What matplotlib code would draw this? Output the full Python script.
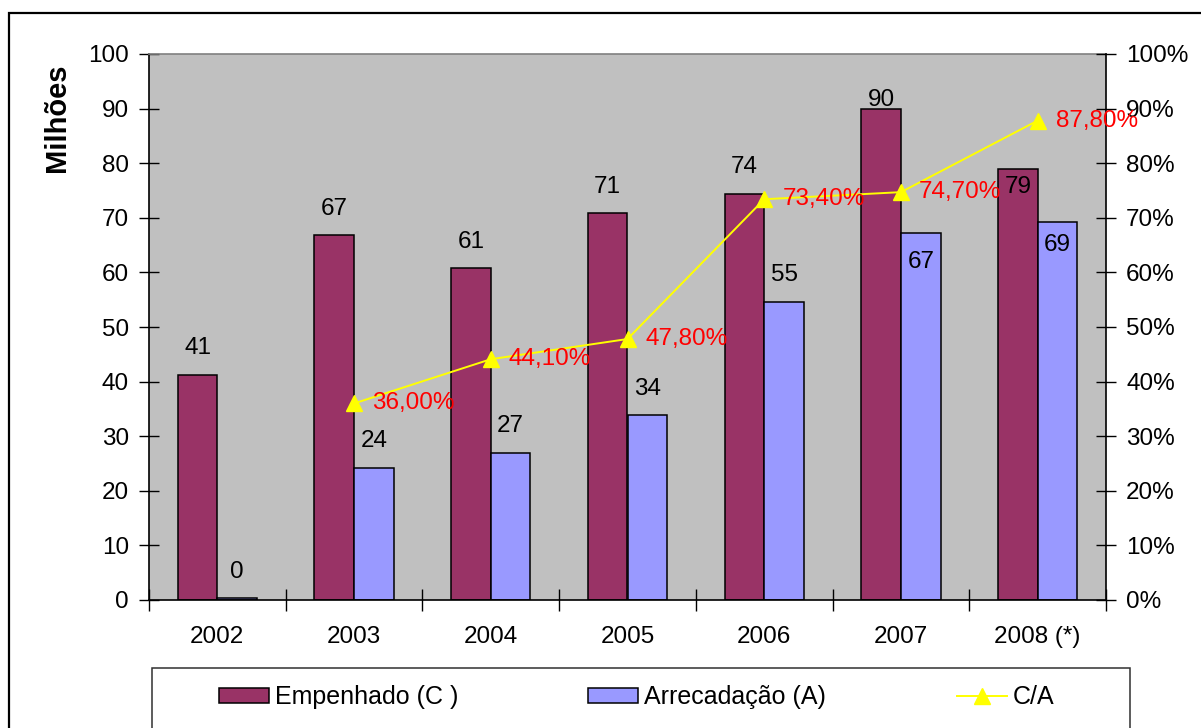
import matplotlib
matplotlib.use("Agg")
import matplotlib.pyplot as plt
from matplotlib.patches import Rectangle, Patch
from matplotlib.lines import Line2D

plt.rcParams['font.family'] = ['Liberation Sans', 'DejaVu Sans']

years = ["2002", "2003", "2004", "2005", "2006", "2007", "2008 (*)"]
empenhado = [41.3, 66.8, 60.8, 70.8, 74.4, 90.0, 78.9]
arrecadacao = [0.3, 24.2, 27.0, 33.8, 54.6, 67.2, 69.3]
emp_labels = ["41", "67", "61", "71", "74", "90", "79"]
arr_labels = ["0", "24", "27", "34", "55", "67", "69"]
ratio_years = [1, 2, 3, 4, 5, 6]
ratio = [0.360, 0.441, 0.478, 0.734, 0.747, 0.878]
ratio_labels = ["36,00%", "44,10%", "47,80%", "73,40%", "74,70%", "87,80%"]

# vertical offsets (points) for the value labels
emp_dy = [19, 19, 19, 19, 19, 6, -13]
arr_dy = [19, 19, 19, 19, 19, -21, -17]

C_EMP = "#993366"
C_ARR = "#9999FF"
C_BG = "#C0C0C0"
FS = 17.5

fig = plt.figure(figsize=(12.01, 7.28), dpi=100)
W, H = 1201, 728
ax = fig.add_axes([149 / W, 1 - 600 / H, (1106 - 149) / W, (600 - 54) / H])
ax.set_facecolor(C_BG)

bw = 0.29
xs = list(range(len(years)))
ax.bar([x - bw / 2 for x in xs], empenhado, width=bw, color=C_EMP,
       edgecolor="black", linewidth=1.1, zorder=2)
ax.bar([x + bw / 2 for x in xs], arrecadacao, width=bw, color=C_ARR,
       edgecolor="black", linewidth=1.1, zorder=2)

for x, v, t, dy in zip(xs, empenhado, emp_labels, emp_dy):
    ax.annotate(t, (x - bw / 2, v), xytext=(0, dy), textcoords="offset points",
                ha="center", va="center", fontsize=FS, color="black", zorder=3)
for x, v, t, dy in zip(xs, arrecadacao, arr_labels, arr_dy):
    ax.annotate(t, (x + bw / 2, v), xytext=(0, dy), textcoords="offset points",
                ha="center", va="center", fontsize=FS, color="black", zorder=3)

ax.set_xlim(-0.5, len(years) - 0.5)
ax.set_ylim(0, 100)
ax.set_yticks(range(0, 101, 10))
ax.set_xticks(xs)
ax.set_xticklabels(years)
ax.set_xticks([x - 0.5 for x in range(len(years) + 1)], minor=True)
ax.tick_params(axis="x", which="major", length=0, pad=19, labelsize=FS)
ax.tick_params(axis="x", which="minor", direction="inout", length=16, width=1)
ax.tick_params(axis="y", direction="inout", length=15, width=1, pad=7,
               labelsize=FS)

for s in ["left", "bottom"]:
    ax.spines[s].set_color("black")
    ax.spines[s].set_linewidth(1.2)
ax.spines["top"].set_color("#808080")
ax.spines["top"].set_linewidth(1.2)
ax.spines["right"].set_visible(False)

ax2 = ax.twinx()
ax2.set_ylim(0, 1)
ax2.set_yticks([i / 10 for i in range(11)])
ax2.set_yticklabels([f"{i * 10}%" for i in range(11)])
ax2.tick_params(axis="y", direction="inout", length=15, width=1, pad=7,
                labelsize=FS)
for s in ["left", "top", "bottom"]:
    ax2.spines[s].set_visible(False)
ax2.spines["right"].set_color("black")
ax2.spines["right"].set_linewidth(1.2)

ax2.plot(ratio_years, ratio, color="#FFFF00", linewidth=1.4, marker="^",
         markersize=11, markerfacecolor="#FFFF00", markeredgecolor="#FFFF00",
         zorder=4)
for x, v, t in zip(ratio_years, ratio, ratio_labels):
    ax2.annotate(t, (x, v), xytext=(13, 0), textcoords="offset points",
                 ha="left", va="center", fontsize=FS, color="#FF0000", zorder=5)

fig.text(57 / W, 1 - 118 / H, "Milhões", rotation=90, ha="center",
         va="center", fontsize=21, fontweight="bold")

# outer chart frame and legend box
fig.patches.append(Rectangle((9 / W, -0.1), 1.2, 1 - 13 / H + 0.1,
                             transform=fig.transFigure, fill=False,
                             edgecolor="black", linewidth=1.6))
fig.patches.append(Rectangle((152 / W, -0.1), (1130 - 152) / W,
                             1 - 668 / H + 0.1, transform=fig.transFigure,
                             fill=False, edgecolor="#303030", linewidth=1.1))

handles = [
    (Patch(facecolor=C_EMP, edgecolor="black", linewidth=1.1), "Empenhado (C )", 219),
    (Patch(facecolor=C_ARR, edgecolor="black", linewidth=1.1), "Arrecadação (A)", 588),
    (Line2D([], [], color="#FFFF00", linewidth=1.4, marker="^", markersize=11),
     "C/A", 957),
]
for h, lab, px in handles:
    fig.legend(handles=[h], labels=[lab], loc="center left",
               bbox_to_anchor=(px / W, 1 - 697 / H), frameon=False,
               borderpad=0, borderaxespad=0, handlelength=2.0,
               handleheight=0.55, handletextpad=0.25, fontsize=18)

fig.savefig("out.png", dpi=100)
